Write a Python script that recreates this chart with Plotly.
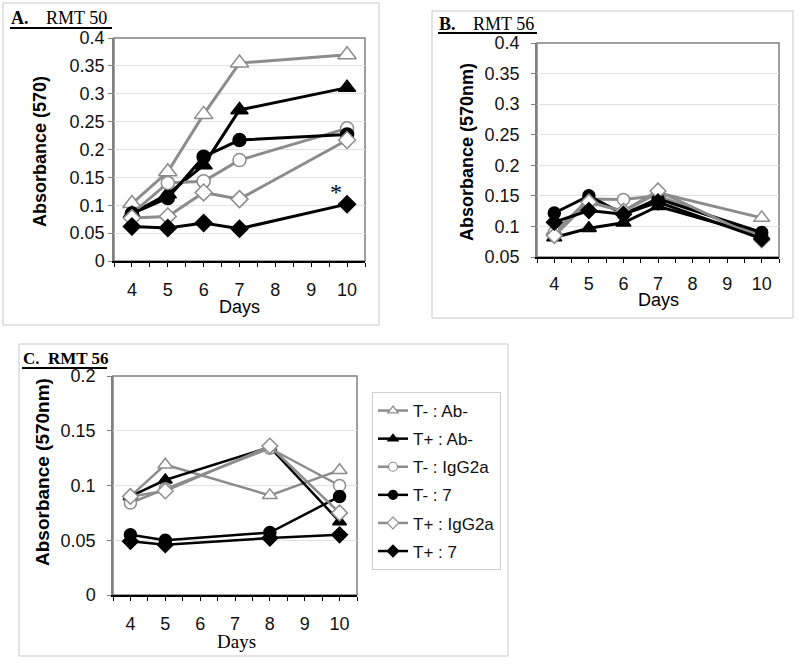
import plotly.graph_objects as go

W, H = 800, 664

# ---------------- data ----------------
series_names = ["T- : Ab-", "T+ : Ab-", "T- : IgG2a", "T- : 7", "T+ : IgG2a", "T+ : 7"]

days_A = [4, 5, 6, 7, 10]
A_Tm_Abm = [0.103, 0.160, 0.263, 0.355, 0.370]
A_Tp_Abm = [0.085, 0.120, 0.172, 0.271, 0.311]
A_Tm_IgG = [0.085, 0.140, 0.143, 0.181, 0.238]
A_Tm_7 = [0.085, 0.113, 0.187, 0.217, 0.227]
A_Tp_IgG = [0.077, 0.080, 0.123, 0.111, 0.217]
A_Tp_7 = [0.062, 0.059, 0.068, 0.058, 0.102]

days_B = [4, 5, 6, 7, 10]
B_Tm_Abm = [0.092, 0.140, 0.125, 0.155, 0.114]
B_Tp_Abm = [0.082, 0.097, 0.106, 0.133, 0.085]
B_Tm_IgG = [0.090, 0.145, 0.144, 0.150, 0.085]
B_Tm_7 = [0.122, 0.150, 0.120, 0.145, 0.090]
B_Tp_IgG = [0.085, 0.140, 0.125, 0.158, 0.078]
B_Tp_7 = [0.107, 0.126, 0.120, 0.140, 0.080]

days_C = [4, 5, 8, 10]
C_Tm_Abm = [0.090, 0.119, 0.091, 0.114]
C_Tp_Abm = [0.090, 0.105, 0.135, 0.067]
C_Tm_IgG = [0.084, 0.097, 0.134, 0.100]
C_Tm_7 = [0.055, 0.050, 0.057, 0.090]
C_Tp_IgG = [0.090, 0.095, 0.136, 0.075]
C_Tp_7 = [0.049, 0.046, 0.052, 0.055]

yA_ticks = [0, 0.05, 0.1, 0.15, 0.2, 0.25, 0.3, 0.35, 0.4]
yA_text = ["0", "0.05", "0.1", "0.15", "0.2", "0.25", "0.3", "0.35", "0.4"]
yB_ticks = [0.05, 0.1, 0.15, 0.2, 0.25, 0.3, 0.35, 0.4]
yB_text = ["0.05", "0.1", "0.15", "0.2", "0.25", "0.3", "0.35", "0.4"]
yC_ticks = [0, 0.05, 0.1, 0.15, 0.2]
yC_text = ["0", "0.05", "0.1", "0.15", "0.2"]

# ---------------- styles ----------------
GRAY = "#8c8c8c"
BLACK = "#000000"
SANS = "Liberation Sans, Arial, sans-serif"
SERIF = "Liberation Serif, Times New Roman, serif"

styles = [
    dict(color=GRAY, symbol="triangle-up", fill="white"),
    dict(color=BLACK, symbol="triangle-up", fill=BLACK),
    dict(color=GRAY, symbol="circle", fill="white"),
    dict(color=BLACK, symbol="circle", fill=BLACK),
    dict(color=GRAY, symbol="diamond", fill="white"),
    dict(color=BLACK, symbol="diamond", fill=BLACK),
]

fig = go.Figure()


def add_panel(days, ys, xa, ya, sizes, lw):
    for name, y, st, sz in zip(series_names, ys, styles, sizes):
        fig.add_trace(go.Scatter(
            x=days, y=y, mode="lines+markers", name=name, showlegend=False,
            xaxis=xa, yaxis=ya,
            line=dict(color=st["color"], width=lw),
            marker=dict(symbol=st["symbol"], size=sz, color=st["fill"],
                        line=dict(color=st["color"], width=1.5)),
        ))


add_panel(days_A, [A_Tm_Abm, A_Tp_Abm, A_Tm_IgG, A_Tm_7, A_Tp_IgG, A_Tp_7],
          "x", "y", [16, 15, 13, 13, 13, 13], 3)
add_panel(days_B, [B_Tm_Abm, B_Tp_Abm, B_Tm_IgG, B_Tm_7, B_Tp_IgG, B_Tp_7],
          "x2", "y2", [14, 13, 12, 12, 12, 12], 3)
add_panel(days_C, [C_Tm_Abm, C_Tp_Abm, C_Tm_IgG, C_Tm_7, C_Tp_IgG, C_Tp_7],
          "x3", "y3", [13, 12, 12, 12, 12, 12], 2.5)

# legend-only entries
for i, (name, st) in enumerate(zip(series_names, styles)):
    fig.add_trace(go.Scatter(
        x=[None], y=[None], mode="lines+markers", name=name, legendgroup=f"g{i}",
        xaxis="x3", yaxis="y3",
        line=dict(color=st["color"], width=2.5),
        marker=dict(symbol=st["symbol"], size=9, color=st["fill"],
                    line=dict(color=st["color"], width=1.2)),
    ))


def px_x(p):
    return p / W


def px_y(p):
    return 1 - p / H


def xaxis_cfg(l, r, anchor, standoff):
    return dict(
        domain=[px_x(l), px_x(r)], anchor=anchor, range=[3.5, 10.5],
        tickmode="linear", tick0=4, dtick=1, automargin=False,
        ticks="outside", ticklen=4, tickcolor=BLACK, tickwidth=1,
        minor=dict(ticks="outside", dtick=0.5, tick0=3.5, ticklen=4, tickcolor=BLACK),
        showline=True, linecolor=BLACK, linewidth=1.5,
        showgrid=False, zeroline=False,
        tickfont=dict(family=SANS, size=18, color="#111"),
        ticklabelstandoff=standoff,
    )


def yaxis_cfg(t, b, anchor, rng, tv, tt, standoff):
    return dict(
        domain=[px_y(b), px_y(t)], anchor=anchor, range=rng, automargin=False,
        tickmode="array", tickvals=tv, ticktext=tt,
        ticks="outside", ticklen=4, tickcolor="#808080",
        showline=True, linecolor="#808080", linewidth=1.5,
        showgrid=True, gridcolor="#e2e2e2", gridwidth=1, zeroline=False,
        tickfont=dict(family=SANS, size=18, color="#111"),
        ticklabelstandoff=standoff,
    )


fig.update_layout(
    width=W, height=H, autosize=False,
    margin=dict(l=0, r=0, t=0, b=0, pad=0, autoexpand=False),
    paper_bgcolor="white", plot_bgcolor="white",
    xaxis=xaxis_cfg(114, 365, "y", 8),
    yaxis=yaxis_cfg(38, 261, "x", [0, 0.4], yA_ticks, yA_text, 0),
    xaxis2=xaxis_cfg(537, 779, "y2", 6),
    yaxis2=yaxis_cfg(43, 257, "x2", [0.05, 0.4], yB_ticks, yB_text, 8),
    xaxis3=xaxis_cfg(113, 357, "y3", 8),
    yaxis3=yaxis_cfg(376, 595, "x3", [0, 0.2], yC_ticks, yC_text, 8),
    legend=dict(
        x=px_x(372), y=px_y(392), xanchor="left", yanchor="top",
        bordercolor="#d0d0d0", borderwidth=1, bgcolor="white",
        font=dict(family=SANS, size=17, color="#111"),
        tracegroupgap=3, itemwidth=30, traceorder="grouped",
    ),
)

shapes = []
# outer frames
for (x0, y0, x1, y1) in [(3, 3, 379, 325), (432, 11, 793, 318), (19, 344, 508, 656)]:
    shapes.append(dict(type="rect", xref="paper", yref="paper",
                       x0=px_x(x0), x1=px_x(x1), y0=px_y(y1), y1=px_y(y0),
                       line=dict(color="#c8c8c8", width=1)))
# plot area borders
for xa, ya in [("x", "y"), ("x2", "y2"), ("x3", "y3")]:
    shapes.append(dict(type="rect", xref=f"{xa} domain", yref=f"{ya} domain",
                       x0=0, x1=1, y0=0, y1=1,
                       line=dict(color="#808080", width=1.5), layer="below"))
# title underlines
for (x0, x1, y) in [(10, 112, 28), (438, 537, 33), (22, 107, 368)]:
    shapes.append(dict(type="line", xref="paper", yref="paper",
                       x0=px_x(x0), x1=px_x(x1), y0=px_y(y), y1=px_y(y),
                       line=dict(color=BLACK, width=2)))
fig.update_layout(shapes=shapes)

ann = []


def text(x, y, s, size, family=SANS, xanchor="left", angle=0, bold=False):
    ann.append(dict(x=px_x(x), y=px_y(y), xref="paper", yref="paper",
                    text=f"<b>{s}</b>" if bold else s, showarrow=False,
                    xanchor=xanchor, yanchor="middle", textangle=angle,
                    font=dict(family=family, size=size, color=BLACK)))


# panel titles
text(9, 18, "A.", 18, SERIF, bold=True)
text(44, 18, "RMT 50", 18, SERIF)
text(437, 24, "B.", 18, SERIF, bold=True)
text(471, 24, "RMT 56", 18, SERIF)
text(21, 359, "C.", 17, SERIF, bold=True)
text(46, 359, "RMT 56", 17, SERIF, bold=True)

# axis titles
text(40, 152, "Absorbance (570)", 18, SANS, "center", -90, True)
text(467, 152, "Absorbance (570nm)", 18, SANS, "center", -90, True)
text(42, 472, "Absorbance (570nm)", 19, SANS, "center", -90, True)
text(239, 307, "Days", 18, SANS, "center")
text(658, 300, "Days", 18, SANS, "center")
text(236, 641, "Days", 19, SERIF, "center")

fig.update_layout(annotations=ann)

# significance asterisk on panel A
fig.add_annotation(x=9.7, y=0.124, xref="x", yref="y", text="*", showarrow=False,
                   font=dict(family=SERIF, size=24, color=BLACK), yanchor="middle")

fig.write_html(
    "out.html",
    config={"responsive": False, "displayModeBar": False},
    post_script="document.body.style.margin='0';document.body.style.overflow='hidden';",
)
